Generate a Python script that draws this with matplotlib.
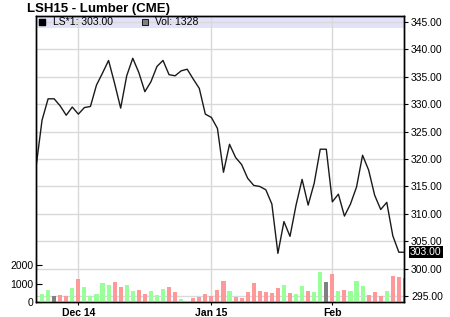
import numpy as np
from matplotlib import pyplot as plt
from matplotlib.patches import Rectangle

plt.rcParams["font.family"] = ["Liberation Sans", "DejaVu Sans"]

# daily closes, first value is the session before the visible window
closes = [318.5, 327.1, 331.0, 331.0, 329.7, 328.0, 329.5, 328.2, 329.4, 329.6,
          333.5, 335.7, 338.0, 333.8, 329.3, 335.2, 338.4, 335.8, 332.3, 334.1,
          336.9, 338.0, 335.4, 335.2, 336.1, 336.4, 334.6, 332.9, 328.2, 327.6,
          325.6, 317.6, 322.7, 320.3, 319.0, 316.5, 315.2, 315.0, 314.4, 311.8,
          302.8, 308.6, 305.9, 311.6, 316.3, 311.6, 315.6, 321.8, 321.8, 312.2,
          313.6, 309.6, 311.8, 314.9, 320.7, 318.0, 313.4, 310.8, 312.1, 306.0,
          303.0, 303.0]
volumes = [450, 670, 340, 400, 340, 740, 1260, 830, 340, 450,
           1045, 940, 1100, 830, 940, 610, 670, 450, 610, 400,
           720, 830, 560, 180, 70, 230, 290, 450, 340, 670,
           1150, 610, 290, 230, 560, 1045, 610, 560, 500, 775,
           940, 500, 450, 880, 610, 560, 1640, 1100, 1530, 610,
           670, 610, 1150, 880, 400, 560, 340, 610, 1420, 1370, 1328]
month_pos = [6, 28, 48]
month_labels = ["Dec 14", "Jan 15", "Feb"]
price_ticks = [295, 300, 305, 310, 315, 320, 325, 330, 335, 340, 345]
vol_ticks = [0, 1000, 2000]


def main():
    fig = plt.figure(figsize=(4.5, 3.17), dpi=100)
    ax = fig.add_axes([36 / 450, 15 / 317, 368 / 450, 286 / 317])

    x_price = np.arange(len(closes)) - 1
    x_vol = np.arange(len(volumes))

    # bar colour from change vs previous close
    diff = np.diff(closes)
    colors = ["#99ff99" if d > 0 else "#ff9999" if d < 0 else "#808080" for d in diff]

    # legend band
    ax.add_patch(Rectangle((0, 1 - 12 / 286), 1, 12 / 286, transform=ax.transAxes,
                           facecolor="#e2e2fa", edgecolor="none", zorder=0.2))
    ax.set_axisbelow(True)
    ax.grid(True, color="#d9d9d9", linewidth=1.0)
    ax.plot(x_price, closes, color="#1a1a1a", linewidth=1.0, zorder=3)
    ax.set_ylim(293.92, 346.11)
    ax.set_xlim(-1, 59.85)
    ax.set_xticks(month_pos)
    ax.set_xticklabels(month_labels, fontweight="bold")
    ax.tick_params(axis="x", direction="out", length=2, pad=2, labelsize=7.5)

    # volume on a twin axis drawn above the grid
    vax = ax.twinx()
    vax.bar(x_vol, volumes, width=0.68, color=colors, zorder=2)
    vax.set_ylim(0, 15540)
    vax.set_yticks(vol_ticks)
    vax.yaxis.tick_left()
    vax.tick_params(axis="y", direction="in", length=4, pad=2, labelsize=7.5)

    # twinx flips the original axis to the left, so set price ticks afterwards
    ax.yaxis.tick_right()
    ax.set_yticks(price_ticks)
    ax.set_yticklabels([f"{p:.2f}" for p in price_ticks])
    ax.tick_params(axis="y", direction="out", length=3, pad=2, labelsize=7.5)

    for a in (ax, vax):
        for s in a.spines.values():
            s.set_linewidth(1.0)
            s.set_color("black")

    # last price marker on right axis
    vax.annotate(f"{closes[-1]:.2f}", xy=(1, closes[-1]), xycoords=("axes fraction", ax.transData),
                 xytext=(4.3, 0), textcoords="offset points", ha="left", va="center",
                 color="white", fontsize=7.5,
                 bbox=dict(boxstyle="square,pad=0.1", facecolor="black", edgecolor="none"),
                 annotation_clip=False, zorder=5)

    # legend
    vax.scatter([0.0165], [0.979], marker="s", s=16, color="black", transform=vax.transAxes,
                clip_on=False, zorder=6)
    vax.text(0.046, 0.979, f"LS*1: {closes[-1]:.2f}", transform=vax.transAxes,
             fontsize=7.5, va="center", ha="left")
    vax.scatter([0.297], [0.979], marker="s", s=16, color="#808080", edgecolors="black",
                linewidths=0.6, transform=vax.transAxes, clip_on=False, zorder=6)
    vax.text(0.324, 0.979, f"Vol: {volumes[-1]}", transform=vax.transAxes,
             fontsize=7.5, va="center", ha="left")

    fig.text(27 / 450, 1 - 12 / 317, "LSH15 - Lumber (CME)", fontsize=9.5,
             fontweight="bold", va="baseline", ha="left")

    fig.savefig("out.png", dpi=100)
    plt.close(fig)


if __name__ == "__main__":
    main()
